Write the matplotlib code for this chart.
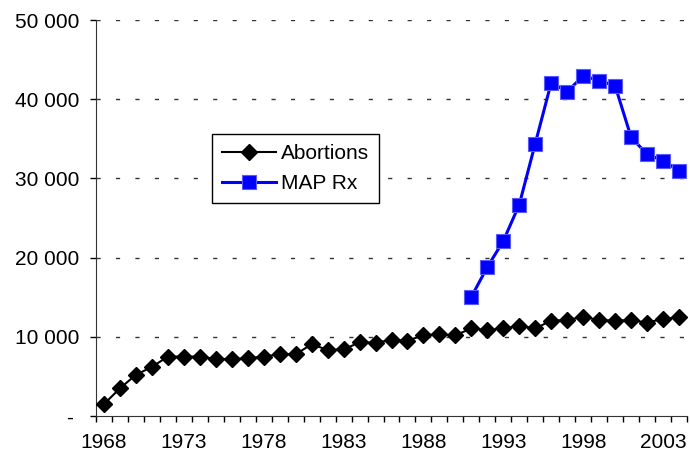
import matplotlib
matplotlib.use("Agg")
import matplotlib.pyplot as plt
from matplotlib.ticker import FixedLocator

# dados
anos = list(range(1968, 2005))
abortos = [1500, 3500, 5200, 6200, 7500, 7500, 7500, 7200, 7200, 7300,
           7500, 7800, 7800, 9050, 8350, 8400, 9300, 9250, 9600, 9500,
           10200, 10300, 10200, 11050, 10850, 11050, 11400, 11050, 12050, 12100,
           12550, 12100, 12050, 12100, 11800, 12250, 12450]
anos_map = list(range(1991, 2005))
map_rx = [15050, 18800, 22100, 26700, 34400, 42100, 40950, 42950, 42350, 41700,
          35200, 33050, 32250, 30950]

y_ticks = [0, 10000, 20000, 30000, 40000, 50000]
y_labels = ["- ", "10 000", "20 000", "30 000", "40 000", "50 000"]
x_labels = [1968, 1973, 1978, 1983, 1988, 1993, 1998, 2003]

plt.rcParams['font.family'] = ['Liberation Sans', 'DejaVu Sans']

fig = plt.figure(figsize=(6.9, 4.57), dpi=100)
ax = fig.add_axes([96 / 690, 1 - 416 / 457, 591 / 690, 396 / 457])

ax.plot(anos, abortos, color='black', lw=1.5, marker='D', ms=8.5,
        mfc='black', mec='black', label='Abortions', zorder=3)
ax.plot(anos_map, map_rx, color='#0000ff', lw=2.2, marker='s', ms=10.5,
        mfc='#0000ff', mec='#5a5aff', mew=0.8, label='MAP Rx', zorder=4)

ax.set_xlim(1967.5, 2004.5)
ax.set_ylim(0, 50000)

ax.set_yticks(y_ticks)
ax.set_yticklabels(y_labels)
ax.tick_params(axis='y', direction='out', length=4, width=1, pad=8,
               labelsize=15)

ax.set_xticks(x_labels)
ax.set_xticklabels([str(a) for a in x_labels])
ax.tick_params(axis='x', which='major', length=0, pad=12, labelsize=15)
ax.xaxis.set_minor_locator(FixedLocator([1967.5 + k for k in range(38)]))
ax.tick_params(axis='x', which='minor', direction='out', length=4, width=1)

for v in y_ticks[1:]:
    ax.axhline(v, color='#333333', lw=1, dashes=(3, 11), zorder=1)

ax.spines['top'].set_visible(False)
ax.spines['right'].set_visible(False)
ax.spines['left'].set_color('#333333')
ax.spines['bottom'].set_color('#333333')

leg = ax.legend(loc='upper left', bbox_to_anchor=(0.196, 0.712), fontsize=15,
                frameon=True, fancybox=False, framealpha=1, edgecolor='black',
                handlelength=2.6, borderpad=0.5, labelspacing=0.5,
                handletextpad=0.2, borderaxespad=0)
leg.get_frame().set_linewidth(1)

fig.savefig("out.png", dpi=100)
